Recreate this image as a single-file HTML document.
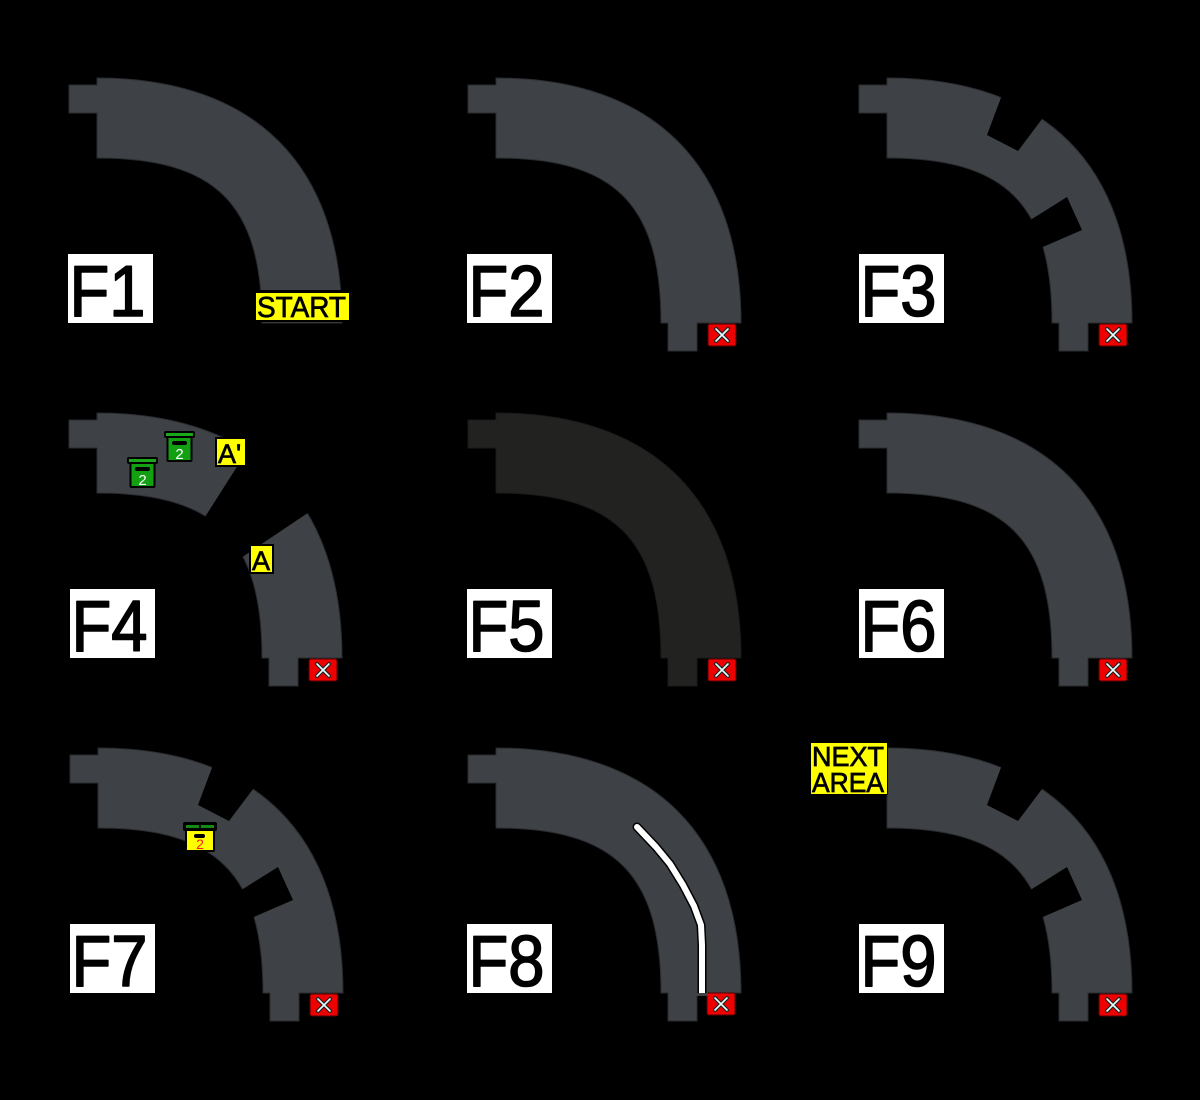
<!DOCTYPE html>
<html>
<head>
<meta charset="utf-8">
<style>
  html,body{margin:0;padding:0;background:#000;}
  svg{display:block;}
  .lbl{font-family:"Liberation Sans",Arial,sans-serif;fill:#000;stroke:#000;stroke-width:1.6;stroke-linejoin:round;}
  .yl{font-family:"Liberation Sans",Arial,sans-serif;fill:#000;stroke:#000;stroke-width:0.7;}
</style>
</head>
<body>
<svg width="1200" height="1100" viewBox="0 0 1200 1100" xmlns="http://www.w3.org/2000/svg">
  <rect x="0" y="0" width="1200" height="1100" fill="#000"/>

  <!-- ================= F1 ================= -->
  <g transform="translate(97,323)">
    <path d="M-28,-238 H0 V-245 C158,-245 245,-158 245,0 H165 C165,-119 119,-165 0,-165 V-210 H-28 Z" fill="#3e4145" stroke="#2a2c30" stroke-width="1"/>
    <rect x="-29" y="-69" width="85" height="69" fill="#fff"/>
    <text class="lbl" x="-27.5" y="-7" font-size="72" textLength="76" lengthAdjust="spacingAndGlyphs">F1</text>
  </g>
  <!-- START label -->
  <rect x="253" y="290" width="99" height="32" fill="#000"/>
  <rect x="256" y="293" width="93" height="27" fill="#ffff00"/>
  <text class="yl" x="257" y="317" font-size="29" textLength="89" lengthAdjust="spacingAndGlyphs">START</text>

  <!-- ================= F2 ================= -->
  <g transform="translate(496,323)">
    <path d="M-28,-238 H0 V-245 C158,-245 245,-158 245,0 H201 V28 H172 V0 H165 C165,-119 119,-165 0,-165 V-210 H-28 Z" fill="#3e4145" stroke="#2a2c30" stroke-width="1"/>
    <rect x="-29" y="-69" width="85" height="69" fill="#fff"/>
    <text class="lbl" x="-27.5" y="-7" font-size="72" textLength="76" lengthAdjust="spacingAndGlyphs">F2</text>
    <g transform="translate(212,1)">
      <rect x="0" y="0" width="28" height="22" rx="2" fill="#ee0000" stroke="#550000" stroke-width="1"/>
      <path d="M8,5 L20,17 M20,5 L8,17" stroke="#222" stroke-width="4" stroke-linecap="round"/>
      <path d="M8,5 L20,17 M20,5 L8,17" stroke="#e8ffff" stroke-width="1.6" stroke-linecap="round"/>
    </g>
  </g>

  <!-- ================= F3 ================= -->
  <g transform="translate(887,323)">
    <path d="M-28,-238 H0 V-245 C158,-245 245,-158 245,0 H201 V28 H172 V0 H165 C165,-119 119,-165 0,-165 V-210 H-28 Z" fill="#3e4145" stroke="#2a2c30" stroke-width="1"/>
    <polygon points="100,-188 131,-172 170,-224 124,-252" fill="#000"/>
    <polygon points="180,-126 195,-93 142,-70 129,-94" fill="#000"/>
    <rect x="-28" y="-69" width="85" height="69" fill="#fff"/>
    <text class="lbl" x="-26.5" y="-7" font-size="72" textLength="76" lengthAdjust="spacingAndGlyphs">F3</text>
    <g transform="translate(212,1)">
      <rect x="0" y="0" width="28" height="22" rx="2" fill="#ee0000" stroke="#550000" stroke-width="1"/>
      <path d="M8,5 L20,17 M20,5 L8,17" stroke="#222" stroke-width="4" stroke-linecap="round"/>
      <path d="M8,5 L20,17 M20,5 L8,17" stroke="#e8ffff" stroke-width="1.6" stroke-linecap="round"/>
    </g>
  </g>

  <!-- ================= F4 ================= -->
  <g transform="translate(97,658)">
    <path d="M-28,-238 H0 V-245 C158,-245 245,-158 245,0 H201 V28 H172 V0 H165 C165,-119 119,-165 0,-165 V-210 H-28 Z" fill="#3e4145" stroke="#2a2c30" stroke-width="1"/>
    <polygon points="87,-108 164,-229 236,-162 123,-86" fill="#000"/>
    <rect x="-27" y="-69" width="85" height="69" fill="#fff"/>
    <text class="lbl" x="-25.5" y="-7" font-size="72" textLength="76" lengthAdjust="spacingAndGlyphs">F4</text>
    <g transform="translate(212,1)">
      <rect x="0" y="0" width="28" height="22" rx="2" fill="#ee0000" stroke="#550000" stroke-width="1"/>
      <path d="M8,5 L20,17 M20,5 L8,17" stroke="#222" stroke-width="4" stroke-linecap="round"/>
      <path d="M8,5 L20,17 M20,5 L8,17" stroke="#e8ffff" stroke-width="1.6" stroke-linecap="round"/>
    </g>
  </g>
  <!-- green boxes -->
  <g transform="translate(164,431)">
    <rect x="0" y="0" width="31" height="7" rx="2" fill="#000"/>
    <rect x="2" y="2" width="27" height="3" fill="#1aa81a"/>
    <rect x="2.5" y="5" width="26" height="26" rx="2" fill="#000"/>
    <rect x="4.5" y="7" width="22" height="22" fill="#12a012"/>
    <rect x="8" y="10" width="15" height="4" rx="2" fill="#000"/>
    <text x="15.5" y="28" font-size="15" fill="#fff" text-anchor="middle" font-family="Liberation Sans, sans-serif">2</text>
  </g>
  <g transform="translate(127,457)">
    <rect x="0" y="0" width="31" height="7" rx="2" fill="#000"/>
    <rect x="2" y="2" width="27" height="3" fill="#1aa81a"/>
    <rect x="2.5" y="5" width="26" height="26" rx="2" fill="#000"/>
    <rect x="4.5" y="7" width="22" height="22" fill="#12a012"/>
    <rect x="8" y="10" width="15" height="4" rx="2" fill="#000"/>
    <text x="15.5" y="28" font-size="15" fill="#fff" text-anchor="middle" font-family="Liberation Sans, sans-serif">2</text>
  </g>
  <!-- A' label -->
  <rect x="215" y="437" width="32" height="30" fill="#000"/>
  <rect x="217" y="439" width="28" height="26" fill="#ffff00"/>
  <text class="yl" x="218" y="463" font-size="27" stroke-width="1.2">A'</text>
  <!-- A label -->
  <rect x="249" y="544" width="25" height="30" fill="#000"/>
  <rect x="251" y="546" width="21" height="26" fill="#ffff00"/>
  <text class="yl" x="252" y="570" font-size="27" stroke-width="1.2">A</text>

  <!-- ================= F5 ================= -->
  <g transform="translate(496,658)">
    <path d="M-28,-238 H0 V-245 C158,-245 245,-158 245,0 H201 V28 H172 V0 H165 C165,-119 119,-165 0,-165 V-210 H-28 Z" fill="#222221" stroke="#1a1a1a" stroke-width="1"/>
    <rect x="-29" y="-69" width="85" height="69" fill="#fff"/>
    <text class="lbl" x="-27.5" y="-7" font-size="72" textLength="76" lengthAdjust="spacingAndGlyphs">F5</text>
    <g transform="translate(212,1)">
      <rect x="0" y="0" width="28" height="22" rx="2" fill="#ee0000" stroke="#550000" stroke-width="1"/>
      <path d="M8,5 L20,17 M20,5 L8,17" stroke="#222" stroke-width="4" stroke-linecap="round"/>
      <path d="M8,5 L20,17 M20,5 L8,17" stroke="#e8ffff" stroke-width="1.6" stroke-linecap="round"/>
    </g>
  </g>

  <!-- ================= F6 ================= -->
  <g transform="translate(887,658)">
    <path d="M-28,-238 H0 V-245 C158,-245 245,-158 245,0 H201 V28 H172 V0 H165 C165,-119 119,-165 0,-165 V-210 H-28 Z" fill="#3e4145" stroke="#2a2c30" stroke-width="1"/>
    <rect x="-28" y="-69" width="85" height="69" fill="#fff"/>
    <text class="lbl" x="-26.5" y="-7" font-size="72" textLength="76" lengthAdjust="spacingAndGlyphs">F6</text>
    <g transform="translate(212,1)">
      <rect x="0" y="0" width="28" height="22" rx="2" fill="#ee0000" stroke="#550000" stroke-width="1"/>
      <path d="M8,5 L20,17 M20,5 L8,17" stroke="#222" stroke-width="4" stroke-linecap="round"/>
      <path d="M8,5 L20,17 M20,5 L8,17" stroke="#e8ffff" stroke-width="1.6" stroke-linecap="round"/>
    </g>
  </g>

  <!-- ================= F7 ================= -->
  <g transform="translate(98,993)">
    <path d="M-28,-238 H0 V-245 C158,-245 245,-158 245,0 H201 V28 H172 V0 H165 C165,-119 119,-165 0,-165 V-210 H-28 Z" fill="#3e4145" stroke="#2a2c30" stroke-width="1"/>
    <polygon points="100,-188 131,-172 170,-224 124,-252" fill="#000"/>
    <polygon points="180,-126 195,-93 142,-70 129,-94" fill="#000"/>
    <rect x="-28" y="-69" width="85" height="69" fill="#fff"/>
    <text class="lbl" x="-26.5" y="-7" font-size="72" textLength="76" lengthAdjust="spacingAndGlyphs">F7</text>
    <g transform="translate(212,1)">
      <rect x="0" y="0" width="28" height="22" rx="2" fill="#ee0000" stroke="#550000" stroke-width="1"/>
      <path d="M8,5 L20,17 M20,5 L8,17" stroke="#222" stroke-width="4" stroke-linecap="round"/>
      <path d="M8,5 L20,17 M20,5 L8,17" stroke="#e8ffff" stroke-width="1.6" stroke-linecap="round"/>
    </g>
  </g>
  <!-- yellow box -->
  <g transform="translate(183,822)">
    <rect x="0" y="0" width="34" height="9" rx="2" fill="#000"/>
    <rect x="3" y="3" width="13" height="3" fill="#138a13"/>
    <rect x="18" y="3" width="13" height="3" fill="#138a13"/>
    <rect x="2" y="8" width="30" height="22" rx="2" fill="#000"/>
    <rect x="4" y="9" width="26" height="19" fill="#ffff00"/>
    <rect x="11" y="12" width="11" height="4" rx="2" fill="#000"/>
    <text x="17" y="27" font-size="14" fill="#ff1a1a" text-anchor="middle" font-family="Liberation Sans, sans-serif">2</text>
  </g>

  <!-- ================= F8 ================= -->
  <g transform="translate(496,993)">
    <path d="M-28,-238 H0 V-245 C158,-245 245,-158 245,0 H201 V28 H172 V0 H165 C165,-119 119,-165 0,-165 V-210 H-28 Z" fill="#3e4145" stroke="#2a2c30" stroke-width="1"/>
    <rect x="-29" y="-69" width="85" height="69" fill="#fff"/>
    <text class="lbl" x="-27.5" y="-7" font-size="72" textLength="76" lengthAdjust="spacingAndGlyphs">F8</text>
    <g transform="translate(211,0)">
      <rect x="0" y="0" width="28" height="22" rx="2" fill="#ee0000" stroke="#550000" stroke-width="1"/>
      <path d="M8,5 L20,17 M20,5 L8,17" stroke="#222" stroke-width="4" stroke-linecap="round"/>
      <path d="M8,5 L20,17 M20,5 L8,17" stroke="#e8ffff" stroke-width="1.6" stroke-linecap="round"/>
    </g>
  </g>
  <!-- white line -->
  <polyline points="637,827 656,847 670,864 683,885 694,906 701,925 702,945 702,993" fill="none" stroke="#000" stroke-width="9" stroke-linejoin="round" stroke-linecap="round"/>
  <polyline points="637,827 656,847 670,864 683,885 694,906 701,925 702,945 702,993" fill="none" stroke="#fff" stroke-width="6" stroke-linejoin="round" stroke-linecap="round"/>
  <rect x="696" y="993" width="12" height="3" fill="#3e4145"/>

  <!-- ================= F9 ================= -->
  <g transform="translate(887,993)">
    <path d="M-28,-238 H0 V-245 C158,-245 245,-158 245,0 H201 V28 H172 V0 H165 C165,-119 119,-165 0,-165 V-210 H-28 Z" fill="#3e4145" stroke="#2a2c30" stroke-width="1"/>
    <polygon points="100,-188 131,-172 170,-224 124,-252" fill="#000"/>
    <polygon points="180,-126 195,-93 142,-70 129,-94" fill="#000"/>
    <rect x="-28" y="-69" width="85" height="69" fill="#fff"/>
    <text class="lbl" x="-26.5" y="-7" font-size="72" textLength="76" lengthAdjust="spacingAndGlyphs">F9</text>
    <g transform="translate(212,1)">
      <rect x="0" y="0" width="28" height="22" rx="2" fill="#ee0000" stroke="#550000" stroke-width="1"/>
      <path d="M8,5 L20,17 M20,5 L8,17" stroke="#222" stroke-width="4" stroke-linecap="round"/>
      <path d="M8,5 L20,17 M20,5 L8,17" stroke="#e8ffff" stroke-width="1.6" stroke-linecap="round"/>
    </g>
  </g>
  <!-- NEXT AREA label -->
  <rect x="810" y="742" width="78" height="53" fill="#000"/>
  <rect x="811" y="743" width="76" height="51" fill="#ffff00"/>
  <text class="yl" x="812" y="766" font-size="28" textLength="72" lengthAdjust="spacingAndGlyphs">NEXT</text>
  <text class="yl" x="812" y="792" font-size="28" textLength="72" lengthAdjust="spacingAndGlyphs">AREA</text>
</svg>
</body>
</html>
